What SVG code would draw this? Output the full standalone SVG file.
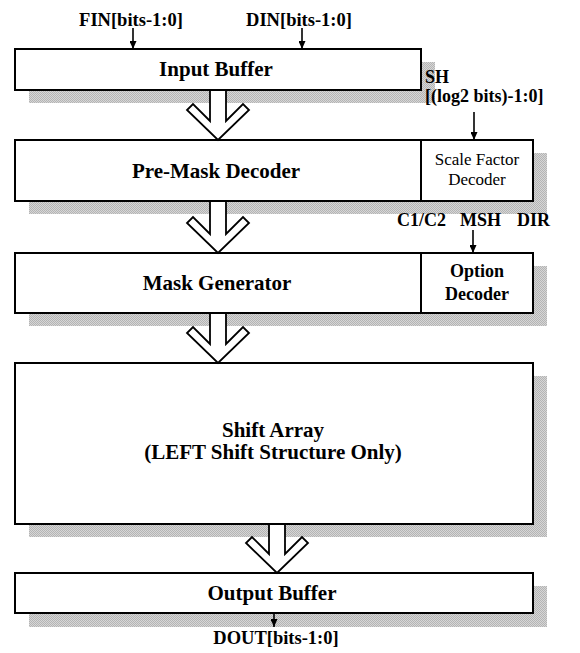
<svg xmlns="http://www.w3.org/2000/svg" width="580" height="653" viewBox="0 0 580 653">
<style>
.box{fill:#fff;stroke:#000;stroke-width:2}
.shadow{fill:url(#dither);stroke:none}
.div{stroke:#000;stroke-width:2}
.t{font-family:"Liberation Serif","Times New Roman",serif;font-weight:bold;fill:#000}
.title{font-size:21px;text-anchor:middle}
.lbl{font-size:18.5px}
.sub{font-family:"Liberation Serif","Times New Roman",serif;font-size:17px;fill:#000;text-anchor:middle}
.wire{stroke:#000;stroke-width:1.6;fill:none;marker-end:url(#ah)}
.hollow{fill:#fff;stroke:#000;stroke-width:1.8;stroke-linejoin:miter}
</style>
<defs>
<pattern id="dither" width="2" height="2" patternUnits="userSpaceOnUse">
<rect width="2" height="2" fill="#d6d6d6"/>
<rect width="1" height="1" fill="#b4b4b4"/>
<rect x="1" y="1" width="1" height="1" fill="#b4b4b4"/>
</pattern>
<marker id="ah" viewBox="0 0 8 7" refX="8" refY="3.5" markerWidth="8" markerHeight="7" markerUnits="userSpaceOnUse" orient="auto">
<path d="M0,0 L8,3.5 L0,7 z" fill="#000"/>
</marker>
</defs>
<rect width="580" height="653" fill="#fff"/>

<g id="input-buffer">
<rect class="shadow" x="29" y="62" width="406" height="41"/>
<rect class="box" x="15" y="49" width="406" height="41"/>
<text class="t title" x="216" y="76">Input Buffer</text>
</g>

<g id="pre-mask-decoder">
<rect class="shadow" x="29" y="153" width="518" height="61"/>
<rect class="box" x="15" y="140" width="518" height="61"/>
<line class="div" x1="421" y1="140" x2="421" y2="201"/>
<text class="t title" x="216" y="178">Pre-Mask Decoder</text>
</g>

<g id="scale-factor-decoder">
<text class="sub" x="477" y="165">Scale Factor</text>
<text class="sub" x="477" y="185">Decoder</text>
</g>

<g id="mask-generator">
<rect class="shadow" x="29" y="266" width="518" height="60"/>
<rect class="box" x="15" y="253" width="518" height="60"/>
<line class="div" x1="421" y1="253" x2="421" y2="313"/>
<text class="t title" x="217" y="290">Mask Generator</text>
</g>

<g id="option-decoder">
<text class="t" x="477" y="277" font-size="18" text-anchor="middle">Option</text>
<text class="t" x="477" y="300" font-size="18" text-anchor="middle">Decoder</text>
</g>

<g id="shift-array">
<rect class="shadow" x="29" y="376" width="518" height="161"/>
<rect class="box" x="15" y="363" width="518" height="161"/>
<text class="t title" x="273" y="437">Shift Array</text>
<text class="t title" x="273" y="459">(LEFT Shift Structure Only)</text>
</g>

<g id="output-buffer">
<rect class="shadow" x="29" y="586" width="518" height="41"/>
<rect class="box" x="15" y="573" width="518" height="40"/>
<text class="t title" x="272" y="600">Output Buffer</text>
</g>

<g id="labels">
<text class="t lbl" x="131" y="26" text-anchor="middle">FIN[bits-1:0]</text>
<text class="t lbl" x="299" y="26" text-anchor="middle">DIN[bits-1:0]</text>
<text class="t" x="425" y="83" font-size="18">SH</text>
<text class="t" x="425" y="102" font-size="18">[(log2 bits)-1:0]</text>
<text class="t" x="397" y="226" font-size="18">C1/C2</text>
<text class="t" x="460" y="226" font-size="18">MSH</text>
<text class="t" x="517" y="226" font-size="18">DIR</text>
<text class="t lbl" x="276" y="644" text-anchor="middle">DOUT[bits-1:0]</text>
</g>

<g id="connectors">
<line class="wire" x1="133" y1="28" x2="133" y2="49"/>
<line class="wire" x1="302" y1="28" x2="302" y2="49"/>
<line class="wire" x1="474" y1="112" x2="474" y2="140"/>
<line class="wire" x1="473" y1="230" x2="473" y2="253"/>
<line class="wire" x1="274" y1="613" x2="274" y2="627"/>
<path class="hollow" d="M210,91 V121 L193,104 L187,110 L218,140 L249,110 L243,104 L226,121 V91"/>
<path class="hollow" d="M210,202 V234 L193,217 L187,223 L218,253 L249,223 L243,217 L226,234 V202"/>
<path class="hollow" d="M210,314 V344 L193,327 L187,333 L218,363 L249,333 L243,327 L226,344 V314"/>
<path class="hollow" d="M269,525 V554 L252,537 L246,543 L277,573 L308,543 L302,537 L285,554 V525"/>
</g>
</svg>
